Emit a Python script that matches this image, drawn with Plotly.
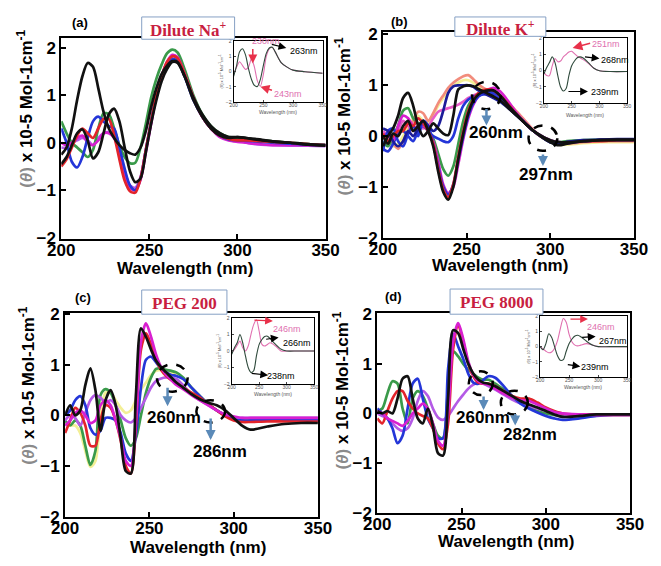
import plotly.graph_objects as go

W, H = 661, 566
# the page body adds an 8 px margin, so layout positions are measured from the window and shifted back
PAGE_PAD = 8

# wavelength grid (nm) shared by the main panels
WL = [200, 203, 206, 209, 212, 215, 218, 221, 224, 227, 230, 233, 236, 239, 242, 245, 248, 251,
      254, 257, 260, 263, 266, 270, 275, 280, 285, 290, 295, 300, 305, 310, 320, 330, 340, 350]

# (a) Dilute Na+
A_BLACK1 = [-0.25, -0.1, 0.3, 0.9, 1.4, 1.68, 1.6, 1.15, 0.65, 0.3, 0.1, -0.05, -0.15, -0.22, -0.25, -0.1, 0.25, 0.75,
            1.15, 1.45, 1.62, 1.72, 1.7, 1.4, 0.9, 0.55, 0.3, 0.15, 0.1, 0.12, 0.1, 0.08, 0.03, 0.0, -0.03, -0.05]
A_BLACK2 = [-0.45, -0.3, -0.05, 0.2, 0.28, 0.05, -0.33, -0.2, 0.2, 0.6, 0.72, 0.45, -0.1, -0.6, -0.83, -0.75, -0.2, 0.4,
            0.9, 1.3, 1.55, 1.7, 1.68, 1.4, 0.95, 0.6, 0.35, 0.2, 0.12, 0.12, 0.1, 0.07, 0.03, 0.0, -0.04, -0.06]
A_RED = [-0.5, -0.35, -0.1, 0.15, 0.3, 0.2, 0.1, 0.3, 0.5, 0.5, 0.15, -0.35, -0.8, -1.02, -1.05, -0.75, -0.15, 0.45,
         1.0, 1.4, 1.7, 1.82, 1.78, 1.45, 0.95, 0.55, 0.3, 0.15, 0.08, 0.05, 0.05, 0.04, 0.02, 0.0, -0.03, -0.05]
A_GREEN = [0.45, 0.2, 0.0, -0.1, -0.2, -0.3, -0.15, 0.3, 0.62, 0.6, 0.3, -0.05, -0.3, -0.43, -0.42, -0.1, 0.4, 0.95,
           1.35, 1.65, 1.88, 1.96, 1.9, 1.55, 1.0, 0.6, 0.35, 0.2, 0.12, 0.1, 0.08, 0.06, 0.03, 0.0, -0.03, -0.05]
A_BLUE = [0.3, 0.0, -0.4, -0.52, -0.3, 0.1, 0.45, 0.55, 0.45, 0.35, 0.3, -0.1, -0.55, -0.9, -1.0, -0.75, -0.15, 0.45,
          1.0, 1.38, 1.62, 1.76, 1.72, 1.4, 0.9, 0.55, 0.3, 0.15, 0.07, 0.05, 0.04, 0.03, 0.0, -0.02, -0.04, -0.05]
A_MAGENTA = [0.0, -0.05, 0.0, 0.1, 0.15, 0.0, -0.05, 0.05, 0.2, 0.2, 0.1, -0.2, -0.65, -0.95, -1.0, -0.78, -0.2, 0.4,
             0.98, 1.4, 1.7, 1.85, 1.8, 1.45, 0.95, 0.55, 0.3, 0.12, 0.05, 0.02, 0.0, -0.02, -0.05, -0.05, -0.05, -0.06]
A_VIOLET = [-0.1, -0.1, 0.0, 0.05, 0.1, 0.05, -0.05, 0.1, 0.2, 0.22, 0.15, -0.15, -0.6, -0.9, -0.95, -0.72, -0.15, 0.42,
            1.0, 1.4, 1.68, 1.82, 1.78, 1.45, 0.95, 0.55, 0.3, 0.15, 0.08, 0.05, 0.0, -0.03, -0.05, -0.06, -0.06, -0.07]

# (b) Dilute K+
B_BLACK1 = [-0.2, 0.0, 0.15, 0.4, 0.75, 0.85, 0.6, 0.2, 0.0, 0.1, 0.25, 0.15, 0.05, 0.02, 0.4, 0.92, 0.98, 1.0,
            0.98, 0.93, 0.88, 0.83, 0.78, 0.7, 0.55, 0.4, 0.25, 0.1, -0.02, -0.12, -0.18, -0.15, -0.1, -0.08, -0.08, -0.08]
B_BLACK2 = [0.0, -0.15, 0.05, 0.0, 0.2, 0.3, 0.1, 0.2, 0.3, 0.1, -0.2, -0.7, -1.1, -1.25, -1.0, -0.45, 0.05, 0.45,
            0.7, 0.82, 0.88, 0.9, 0.9, 0.8, 0.6, 0.42, 0.25, 0.1, 0.0, -0.08, -0.12, -0.12, -0.1, -0.08, -0.07, -0.07]
B_RED = [0.05, -0.1, 0.0, 0.1, 0.1, 0.25, 0.2, 0.35, 0.25, 0.1, -0.15, -0.65, -1.05, -1.2, -0.95, -0.4, 0.1, 0.5,
         0.72, 0.85, 0.9, 0.92, 0.9, 0.8, 0.62, 0.42, 0.25, 0.1, -0.02, -0.1, -0.14, -0.13, -0.1, -0.1, -0.08, -0.08]
B_GREEN = [-0.1, -0.2, 0.0, 0.2, 0.5, 0.55, 0.35, 0.25, 0.2, 0.1, -0.05, -0.35, -0.65, -0.78, -0.6, -0.15, 0.3, 0.6,
           0.75, 0.82, 0.86, 0.88, 0.88, 0.8, 0.62, 0.42, 0.25, 0.1, 0.0, -0.08, -0.12, -0.1, -0.08, -0.07, -0.07, -0.07]
B_BLUE = [-0.3, 0.1, 0.15, -0.1, -0.2, 0.05, 0.2, 0.0, 0.3, 0.2, -0.15, -0.6, -1.0, -1.15, -0.95, -0.45, 0.0, 0.4,
          0.65, 0.78, 0.84, 0.86, 0.85, 0.78, 0.6, 0.42, 0.25, 0.1, -0.02, -0.1, -0.13, -0.12, -0.1, -0.08, -0.07, -0.07]
B_MAGENTA = [0.0, 0.05, -0.1, 0.2, 0.4, 0.35, 0.2, 0.15, 0.2, 0.1, -0.1, -0.5, -0.95, -1.12, -1.0, -0.55, -0.05, 0.35,
             0.62, 0.78, 0.86, 0.92, 0.95, 0.88, 0.68, 0.45, 0.25, 0.1, 0.0, -0.08, -0.12, -0.12, -0.1, -0.08, -0.07, -0.07]
B_NAVY = [0.15, 0.1, -0.1, -0.2, -0.1, 0.1, 0.0, 0.15, 0.3, 0.2, 0.1, 0.2, 0.5, 0.85, 0.98, 1.0, 1.0, 1.0,
          0.97, 0.9, 0.85, 0.8, 0.75, 0.68, 0.55, 0.4, 0.25, 0.1, -0.02, -0.12, -0.15, -0.12, -0.08, -0.07, -0.06, -0.06]
B_BLUE2 = [-0.25, -0.3, -0.15, 0.05, 0.1, 0.0, -0.1, 0.1, 0.2, 0.1, 0.0, -0.05, -0.1, -0.12, 0.0, 0.35, 0.6, 0.72,
           0.78, 0.8, 0.82, 0.83, 0.8, 0.72, 0.58, 0.42, 0.25, 0.1, -0.02, -0.12, -0.16, -0.14, -0.1, -0.08, -0.08, -0.08]
B_SALMON = [0.05, -0.05, -0.15, -0.25, -0.1, 0.1, 0.3, 0.48, 0.45, 0.3, 0.45, 0.65, 0.8, 0.95, 1.05, 1.12, 1.18, 1.2,
            1.12, 1.02, 0.95, 0.9, 0.85, 0.78, 0.65, 0.48, 0.3, 0.12, -0.02, -0.1, -0.15, -0.15, -0.12, -0.1, -0.1, -0.1]
B_YELLOW = [0.0, -0.1, -0.2, -0.15, 0.0, 0.2, 0.35, 0.4, 0.3, 0.25, 0.4, 0.6, 0.75, 0.88, 0.98, 1.05, 1.1, 1.1,
            1.05, 0.98, 0.92, 0.88, 0.83, 0.76, 0.63, 0.46, 0.28, 0.1, -0.03, -0.12, -0.17, -0.17, -0.14, -0.12, -0.12, -0.12]
B_PINK = [0.1, 0.0, -0.1, 0.1, 0.3, 0.2, 0.1, 0.2, 0.15, 0.2, 0.35, 0.48, 0.52, 0.55, 0.58, 0.62, 0.68, 0.75,
          0.8, 0.84, 0.86, 0.85, 0.82, 0.75, 0.6, 0.44, 0.27, 0.1, -0.02, -0.1, -0.14, -0.13, -0.1, -0.08, -0.08, -0.08]

# (c) PEG 200
C_BLACK = [0.0, 0.2, 0.0, 0.1, 0.6, 0.93, 0.5, -0.3, 0.3, 0.5, 0.2, -0.45, -1.1, -1.15, 0.4, 1.72, 1.55, 1.3,
           1.08, 0.95, 0.85, 0.75, 0.65, 0.55, 0.42, 0.32, 0.25, 0.2, 0.1, -0.05, -0.2, -0.28, -0.22, -0.17, -0.15, -0.15]
C_RED = [-0.35, -0.1, 0.15, 0.05, -0.2, -0.6, -0.6, -0.1, 0.2, 0.15, -0.1, -0.5, -1.0, -1.15, -0.2, 1.3, 1.62, 1.4,
         1.1, 0.9, 0.78, 0.7, 0.65, 0.55, 0.45, 0.35, 0.22, 0.1, -0.02, -0.1, -0.13, -0.13, -0.12, -0.12, -0.12, -0.12]
C_MAGENTA = [-0.2, -0.1, 0.05, 0.1, 0.0, -0.15, -0.1, 0.2, 0.3, 0.2, -0.1, -0.45, -0.9, -1.0, -0.1, 1.45, 1.82, 1.55,
             1.2, 0.95, 0.8, 0.7, 0.6, 0.52, 0.4, 0.3, 0.2, 0.1, 0.02, -0.02, -0.05, -0.05, -0.05, -0.05, -0.05, -0.05]
C_BLUE = [0.0, 0.1, 0.3, 0.38, 0.2, -0.25, -0.38, -0.3, -0.05, -0.05, -0.1, -0.35, -0.75, -0.9, -0.4, 0.55, 1.1, 1.16,
          1.05, 0.92, 0.85, 0.8, 0.78, 0.72, 0.55, 0.38, 0.22, 0.1, 0.0, -0.08, -0.1, -0.1, -0.1, -0.1, -0.1, -0.1]
C_GREEN = [-0.1, -0.2, -0.1, -0.2, -0.6, -0.98, -0.7, 0.4, 0.52, 0.45, 0.2, -0.1, -0.45, -0.6, -0.45, 0.0, 0.45, 0.75,
           0.92, 0.93, 0.9, 0.88, 0.85, 0.75, 0.55, 0.38, 0.22, 0.1, 0.0, -0.08, -0.1, -0.1, -0.1, -0.1, -0.1, -0.1]
C_YELLOW = [-0.15, -0.2, -0.2, -0.35, -0.7, -1.02, -0.9, 0.0, 0.45, 0.45, 0.3, 0.15, 0.05, 0.1, 0.3, 0.5, 0.65, 0.8,
            0.88, 0.9, 0.88, 0.85, 0.82, 0.72, 0.55, 0.38, 0.22, 0.1, 0.0, -0.08, -0.1, -0.1, -0.1, -0.1, -0.1, -0.1]
C_VIOLET = [-0.1, 0.0, -0.05, -0.2, 0.05, 0.3, 0.4, 0.35, 0.25, 0.3, 0.2, 0.0, -0.1, -0.14, -0.05, 0.15, 0.35, 0.55,
            0.68, 0.73, 0.75, 0.75, 0.72, 0.6, 0.42, 0.3, 0.2, 0.1, 0.0, -0.05, -0.05, -0.05, -0.05, -0.05, -0.05, -0.05]

# (d) PEG 8000
D_BLACK = [0.05, 0.0, 0.05, 0.0, 0.3, 0.7, 0.75, 0.3, -0.1, -0.2, 0.1, -0.25, -0.8, -0.85, 0.3, 1.68, 1.62, 1.3,
           1.0, 0.8, 0.68, 0.62, 0.6, 0.55, 0.45, 0.35, 0.25, 0.18, 0.12, 0.05, -0.02, -0.07, -0.05, -0.02, -0.02, -0.02]
D_RED = [-0.1, -0.2, 0.05, 0.3, 0.45, 0.45, 0.25, 0.1, 0.0, -0.05, -0.1, -0.3, -0.6, -0.72, -0.2, 1.3, 1.78, 1.45,
         1.0, 0.75, 0.62, 0.6, 0.6, 0.55, 0.45, 0.35, 0.3, 0.3, 0.22, 0.12, 0.05, 0.0, -0.02, -0.03, -0.03, -0.03]
D_MAGENTA = [0.05, 0.0, -0.1, -0.15, -0.2, -0.25, -0.15, 0.0, 0.1, 0.2, 0.1, -0.2, -0.55, -0.65, 0.0, 1.45, 1.82, 1.5,
             1.05, 0.78, 0.65, 0.6, 0.58, 0.5, 0.4, 0.32, 0.27, 0.25, 0.18, 0.1, 0.03, 0.0, -0.02, -0.03, -0.03, -0.03]
D_BLUE = [0.1, 0.0, -0.1, -0.3, -0.6, -0.45, 0.1, 0.6, 0.7, 0.3, -0.1, -0.3, -0.5, -0.5, 0.9, 1.6, 1.35, 1.1,
          0.8, 0.62, 0.6, 0.68, 0.75, 0.72, 0.55, 0.35, 0.2, 0.1, 0.02, -0.05, -0.1, -0.13, -0.1, -0.05, -0.03, -0.03]
D_GREEN = [0.05, 0.1, 0.4, 0.65, 0.6, 0.1, -0.2, 0.3, 0.45, 0.35, 0.1, -0.2, -0.45, -0.5, 0.5, 1.25, 1.15, 1.0,
           0.88, 0.8, 0.72, 0.68, 0.68, 0.6, 0.48, 0.35, 0.22, 0.12, 0.05, 0.0, -0.03, -0.05, -0.03, -0.02, -0.02, -0.02]
D_VIOLET = [0.0, -0.05, -0.1, -0.2, -0.3, -0.35, -0.3, -0.1, 0.25, 0.45, 0.35, 0.1, -0.08, -0.13, -0.05, 0.1, 0.25, 0.38,
            0.5, 0.58, 0.62, 0.6, 0.55, 0.48, 0.38, 0.28, 0.2, 0.15, 0.1, 0.05, 0.0, -0.02, -0.02, -0.02, -0.02, -0.02]

# insets
WL_IN = [200, 205, 210, 215, 220, 225, 230, 235, 240, 245, 250, 255, 260, 265, 270, 280, 290, 300, 320, 350]
IN_A_DARK = [-0.3, 0.4, 1.3, 1.5, 1.1, 0.2, -0.5, -0.9, -0.97, -0.5, 0.4, 1.2, 1.55, 1.6, 1.3, 0.6, 0.3, 0.1, 0.0, -0.1]
IN_A_PINK = [-0.2, 0.3, 0.65, 0.4, 0.15, 0.3, 0.85, 0.3, -0.6, -0.95, -0.2, 1.0, 1.5, 1.6, 1.3, 0.6, 0.3, 0.1, 0.0, -0.1]
IN_B_DARK = [-0.2, 0.2, 0.5, 0.85, 0.5, -0.3, -1.0, -1.25, -1.1, -0.3, 0.3, 0.6, 0.8, 0.85, 0.8, 0.5, 0.15, 0.0, -0.05, -0.05]
IN_B_PINK = [-0.1, -0.3, -0.3, 0.3, 0.75, 0.55, 0.6, 0.85, 1.0, 1.15, 1.2, 1.05, 0.9, 0.8, 0.7, 0.45, 0.15, 0.0, -0.05, -0.05]
IN_C_DARK = [-0.2, 0.2, 0.5, 1.0, 0.5, -0.3, -1.0, -1.3, -1.2, -0.3, 0.4, 0.7, 0.88, 0.9, 0.75, 0.4, 0.1, 0.0, 0.0, 0.0]
IN_C_PINK = [-0.1, 0.1, 0.35, 0.6, 0.2, 0.0, 0.3, 1.0, 1.6, 1.9, 1.2, 0.4, 0.3, 0.4, 0.5, 0.3, 0.0, 0.0, 0.0, 0.0]
IN_D_DARK = [0.0, -0.2, 0.2, 0.85, 0.6, 0.0, -0.6, -0.9, -0.85, -0.3, 0.2, 0.5, 0.7, 0.75, 0.65, 0.35, 0.1, 0.0, 0.0, 0.0]
IN_D_PINK = [0.0, -0.15, -0.3, -0.4, -0.35, -0.1, 0.4, 1.2, 1.85, 1.6, 0.8, 0.3, 0.1, 0.05, 0.1, 0.2, 0.1, 0.0, 0.0, 0.0]

BLACK, RED, GREEN, BLUE = '#111111', '#e3242b', '#3a9a4a', '#2436d8'
MAGENTA, VIOLET, NAVY = '#d81fd0', '#b45ae6', '#1c1c99'
SALMON, YELLOW, PINK = '#f28c7c', '#f3ef96', '#e85cc8'
DARK_IN, PINK_IN = '#2f4a3c', '#e070b0'


def fx(p):
    return (p - PAGE_PAD) / W


def fy(p):
    return 1 - (p - PAGE_PAD) / H


fig = go.Figure()

panels = [
    ('x', 'y', [(VIOLET, A_VIOLET), (GREEN, A_GREEN), (MAGENTA, A_MAGENTA), (BLUE, A_BLUE),
                (RED, A_RED), (BLACK, A_BLACK2), (BLACK, A_BLACK1)]),
    ('x2', 'y2', [(YELLOW, B_YELLOW), (SALMON, B_SALMON), (PINK, B_PINK), (GREEN, B_GREEN), (BLUE, B_BLUE2),
                  (MAGENTA, B_MAGENTA), (BLUE, B_BLUE), (RED, B_RED), (NAVY, B_NAVY),
                  (BLACK, B_BLACK2), (BLACK, B_BLACK1)]),
    ('x3', 'y3', [(YELLOW, C_YELLOW), (GREEN, C_GREEN), (VIOLET, C_VIOLET), (BLUE, C_BLUE),
                  (RED, C_RED), (MAGENTA, C_MAGENTA), (BLACK, C_BLACK)]),
    ('x4', 'y4', [(GREEN, D_GREEN), (VIOLET, D_VIOLET), (BLUE, D_BLUE), (RED, D_RED),
                  (MAGENTA, D_MAGENTA), (BLACK, D_BLACK)]),
]
for xa, ya, series in panels:
    for color, vals in series:
        fig.add_trace(go.Scatter(x=WL, y=vals, mode='lines', xaxis=xa, yaxis=ya,
                                 line=dict(color=color, width=2.7, shape='spline', smoothing=0.8),
                                 hoverinfo='skip'))

insets = [('x5', 'y5', IN_A_DARK, IN_A_PINK), ('x6', 'y6', IN_B_DARK, IN_B_PINK),
          ('x7', 'y7', IN_C_DARK, IN_C_PINK), ('x8', 'y8', IN_D_DARK, IN_D_PINK)]
for xa, ya, dark, pink in insets:
    fig.add_trace(go.Scatter(x=WL_IN, y=pink, mode='lines', xaxis=xa, yaxis=ya,
                             line=dict(color=PINK_IN, width=1.1, shape='spline', smoothing=0.8), hoverinfo='skip'))
    fig.add_trace(go.Scatter(x=WL_IN, y=dark, mode='lines', xaxis=xa, yaxis=ya,
                             line=dict(color=DARK_IN, width=1.1, shape='spline', smoothing=0.8), hoverinfo='skip'))

TICKFONT = dict(family='Liberation Sans', size=17, color='black', weight='bold')
SMALLFONT = dict(family='Liberation Sans', size=5, color='#555')


def main_x(l, r, anchor):
    return dict(domain=[fx(l), fx(r)], anchor=anchor, range=[200, 350], showline=True, linewidth=2,
                linecolor='black', mirror=True, ticks='inside', ticklen=5, tickwidth=1.5, tickcolor='black',
                tickvals=[200, 250, 300, 350], tickfont=TICKFONT, showgrid=False, zeroline=False,
                ticklabelstandoff=-5)


def main_y(t, b, rng, anchor):
    return dict(domain=[fy(b), fy(t)], anchor=anchor, range=rng, showline=True, linewidth=2,
                linecolor='black', mirror=True, ticks='inside', ticklen=5, tickwidth=1.5, tickcolor='black',
                tickvals=[-2, -1, 0, 1, 2], tickfont=TICKFONT, showgrid=False, zeroline=False)


def ins_x(l, r, anchor):
    return dict(domain=[fx(l), fx(r)], anchor=anchor, range=[200, 350], showline=True, linewidth=1.2,
                linecolor='black', mirror=True, ticks='inside', ticklen=2, tickvals=[200, 250, 300, 350],
                tickfont=SMALLFONT, showgrid=False, zeroline=False, ticklabelstandoff=-2)


def ins_y(t, b, anchor):
    return dict(domain=[fy(b), fy(t)], anchor=anchor, range=[-2, 2], showline=True, linewidth=1.2,
                linecolor='black', mirror=True, ticks='inside', ticklen=2, tickvals=[-2, -1, 0, 1, 2],
                tickfont=SMALLFONT, showgrid=False, zeroline=False)


fig.update_layout(
    width=W, height=H, margin=dict(l=0, r=0, t=0, b=0),
    paper_bgcolor='white', plot_bgcolor='white', showlegend=False,
    xaxis=main_x(49, 325, 'y'), yaxis=main_y(31, 238, [-2.02, 2.2], 'x'),
    xaxis2=main_x(385, 647, 'y2'), yaxis2=main_y(25, 237, [-2.0, 2.04], 'x2'),
    xaxis3=main_x(53, 317, 'y3'), yaxis3=main_y(315, 525, [-2.0, 2.02], 'x3'),
    xaxis4=main_x(379, 643, 'y4'), yaxis4=main_y(315, 521, [-2.0, 2.02], 'x4'),
    xaxis5=ins_x(229, 322, 'y5'), yaxis5=ins_y(34, 97, 'x5'),
    xaxis6=ins_x(553, 640, 'y6'), yaxis6=ins_y(31, 98, 'x6'),
    xaxis7=ins_x(227, 313, 'y7'), yaxis7=ins_y(320, 388, 'x7'),
    xaxis8=ins_x(549, 640, 'y8'), yaxis8=ins_y(318, 381, 'x8'),
)

ann = []
shapes = []


def text(x, y, s, size, color='black', bold=True, family='Liberation Sans', angle=0):
    ann.append(dict(x=fx(x), y=fy(y), xref='paper', yref='paper', text=s, showarrow=False,
                    xanchor='center', yanchor='middle', textangle=angle,
                    font=dict(family=family, size=size, color=color, weight='bold' if bold else 'normal')))


def arrow(hx, hy, tx, ty, color, width=1.2, head=2, size=1.0):
    ann.append(dict(x=fx(hx), y=fy(hy), xref='paper', yref='paper', text='', showarrow=True,
                    ax=tx - hx, ay=ty - hy, arrowhead=head, arrowsize=size, arrowwidth=width,
                    arrowcolor=color))


YTITLE = "<span style='color:#8a8a8a'>(<i>θ</i>)</span> x 10-5 Mol-1cm<sup>-1</sup>"

# panel labels, title boxes, axis titles
for lab, lx, ly in [('(a)', 69, 15), ('(b)', 402, 14), ('(c)', 72, 299), ('(d)', 396, 298)]:
    text(lx, ly, lab, 13)
for name, l, r, t, b in [('Dilute Na<sup>+</sup>', 133, 230, 9, 32), ('Dilute K<sup>+</sup>', 460, 555, 9, 29),
                         ('PEG 200', 133, 222, 291, 316), ('PEG 8000', 455, 552, 290, 316)]:
    shapes.append(dict(type='rect', xref='paper', yref='paper', x0=fx(l), x1=fx(r), y0=fy(b), y1=fy(t),
                       line=dict(color='#86a0c4', width=1), fillcolor='white', layer='above'))
    text((l + r) / 2, (t + b) / 2 + 1, name, 17, color='#c8203f', family='Liberation Serif')
for x, y in [(11, 104), (343, 112), (13, 390), (341, 395)]:
    text(x, y, YTITLE, 17, angle=-90)
for x, y in [(178, 269), (507, 266), (192, 557), (513, 551)]:
    text(x, y, 'Wavelength (nm)', 17)

# inset axis titles
for x, y in [(275, 107), (596, 110), (270, 398), (594, 391)]:
    text(x, y, 'Wavelength (nm)', 5, color='#555', bold=False)
for x, y in [(216, 65), (543, 64), (214, 354), (537, 350)]:
    text(x, y, '(θ) x 10<sup>-5</sup> Mol<sup>-1</sup>cm<sup>-1</sup>', 4, color='#555', bold=False, angle=-90)

# inset peak labels
REDA = '#e8314a'
text(263, 34, '230nm', 9, color=PINK_IN, bold=False)
arrow(249, 57, 249, 41, REDA, 1.5, 2, 1.2)
text(302, 44, '263nm', 9, bold=False)
arrow(284, 41, 268, 37, 'black', 1.2, 2, 1.3)
text(286, 89, '243nm', 9, color=PINK_IN, bold=False)
arrow(257, 81, 270, 85, REDA, 1.5, 2, 1.2)

text(618, 37, '251nm', 9, color=PINK_IN, bold=False)
arrow(583, 41, 602, 36, REDA, 1.5, 2, 1.3)
text(627, 53, '268nm', 9, bold=False)
arrow(611, 52, 595, 50, 'black', 1.2, 2, 1.3)
text(617, 86, '239nm', 9, bold=False)
arrow(599, 86, 578, 86, 'black', 1.2, 2, 1.3)

text(285, 331, '246nm', 9, color=PINK_IN, bold=False)
arrow(270, 323, 250, 322, REDA, 1.2, 2, 1.3)
text(295, 346, '266nm', 9, bold=False)
arrow(276, 340, 262, 342, 'black', 1.2, 2, 1.3)
text(278, 380, '238nm', 9, bold=False)
arrow(265, 379, 247, 377, 'black', 1.2, 2, 1.3)

text(613, 329, '246nm', 9, color=PINK_IN, bold=False)
arrow(599, 321, 580, 321, REDA, 1.2, 2, 1.3)
text(625, 344, '267nm', 9, bold=False)
arrow(607, 339, 592, 340, 'black', 1.2, 2, 1.3)
text(606, 371, '239nm', 9, bold=False)
arrow(591, 370, 577, 368, 'black', 1.2, 2, 1.3)

# dashed circles (data units) and isosbestic-point callouts
STEEL = '#5b8ab8'
for xr, yr, cx, cy, rx, ry in [('x2', 'y2', 261.8, 0.8, 8.6, 0.27), ('x2', 'y2', 295.6, -0.04, 8.6, 0.25),
                               ('x3', 'y3', 263.6, 0.74, 9.1, 0.27), ('x3', 'y3', 286.4, 0.08, 8.5, 0.22),
                               ('x4', 'y4', 261.4, 0.61, 7.1, 0.24), ('x4', 'y4', 281.3, 0.22, 8.0, 0.24)]:
    shapes.append(dict(type='circle', xref=xr, yref=yr, x0=cx - rx, x1=cx + rx, y0=cy - ry, y1=cy + ry,
                       line=dict(color='black', width=2.5, dash='dash')))

for (ax_, ay0, ay1, lx, ly, lab) in [(493, 103, 121, 503, 128, '260nm'), (552, 150, 163, 555, 172, '297nm'),
                                     (160, 391, 411, 167, 423, '260nm'), (205, 423, 446, 215, 458, '286nm'),
                                     (490, 400, 415, 489, 423, '260nm'), (523, 418, 431, 538, 440, '282nm')]:
    arrow(ax_, ay1, ax_, ay0, STEEL, 2.5, 2, 0.8)
    text(lx, ly, lab, 17)

fig.update_layout(annotations=ann, shapes=shapes)

fig.write_html("out.html")
